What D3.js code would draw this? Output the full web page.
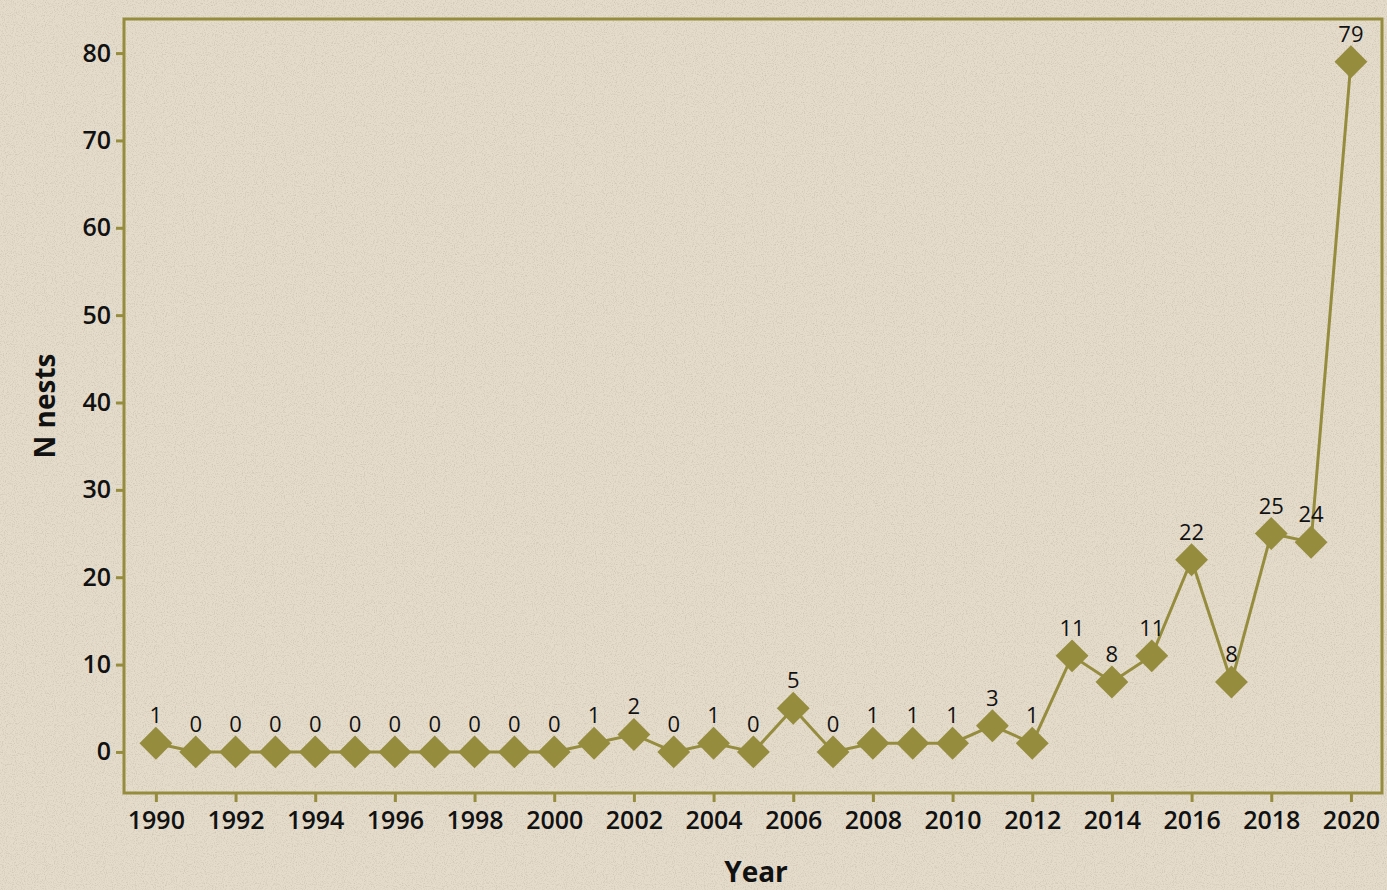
<!DOCTYPE html>
<html>
<head>
<meta charset="utf-8">
<script src="https://cdn.jsdelivr.net/npm/d3@7"></script>
<style>
  body { margin: 0; background: #e4dbcb; }
  svg { display: block; }
  .tick text { font-family: "Open Sans", sans-serif; font-weight: 600; fill: #111; }
  .valText { font-family: "Open Sans", sans-serif; font-size: 22px; fill: #111; }
  .axisText { font-family: "Open Sans", sans-serif; font-weight: 700; font-size: 28px; fill: #111; }
</style>
</head>
<body>
<div id="chart"></div>
<script>
// data
var years = [1990, 1991, 1992, 1993, 1994, 1995, 1996, 1997, 1998, 1999, 2000,
  2001, 2002, 2003, 2004, 2005, 2006, 2007, 2008, 2009, 2010,
  2011, 2012, 2013, 2014, 2015, 2016, 2017, 2018, 2019, 2020];
var nests = [1, 0, 0, 0, 0, 0, 0, 0, 0, 0, 0,
  1, 2, 0, 1, 0, 5, 0, 1, 1, 1,
  3, 1, 11, 8, 11, 22, 8, 25, 24, 79];
var xTicks = [1990, 1992, 1994, 1996, 1998, 2000, 2002, 2004, 2006, 2008, 2010, 2012, 2014, 2016, 2018, 2020];
var yTicks = [0, 10, 20, 30, 40, 50, 60, 70, 80];

var svgWidth = 1387;
var svgHeight = 890;
var olive = "#958c3e";

var frame = { left: 124, top: 19, right: 1382, bottom: 793 };

var svg = d3.select("#chart")
  .append("svg")
  .attr("width", svgWidth)
  .attr("height", svgHeight);

// paper-like speckle texture
var defs = svg.append("defs");
var f = defs.append("filter").attr("id", "grain").attr("x", 0).attr("y", 0).attr("width", "100%").attr("height", "100%");
f.append("feTurbulence").attr("type", "fractalNoise").attr("baseFrequency", 0.9).attr("numOctaves", 2).attr("seed", 4);
f.append("feColorMatrix").attr("values", "0 0 0 0 0.45  0 0 0 0 0.40  0 0 0 0 0.32  0 0 0 -2.4 1.3");

svg.append("rect").attr("width", svgWidth).attr("height", svgHeight).attr("fill", "#e5dccc");
svg.append("rect").attr("width", svgWidth).attr("height", svgHeight)
  .attr("filter", "url(#grain)").attr("opacity", 0.45);

var x = d3.scaleLinear()
  .domain([1989.2, 2020.78])
  .range([frame.left, frame.right]);

var y = d3.scaleLinear()
  .domain([-4.7, 83.9])
  .range([frame.bottom, frame.top]);

var data = years.map(function(yr, i) { return { year: yr, n: nests[i] }; });

// frame
svg.append("rect")
  .attr("x", frame.left)
  .attr("y", frame.top)
  .attr("width", frame.right - frame.left)
  .attr("height", frame.bottom - frame.top)
  .attr("fill", "none")
  .attr("stroke", olive)
  .attr("stroke-width", 3);

var xAxis = d3.axisBottom(x).tickValues(xTicks).tickFormat(d3.format("d")).tickSize(9).tickPadding(9);
var yAxis = d3.axisLeft(y).tickValues(yTicks).tickSize(8).tickPadding(5);

var gx = svg.append("g")
  .attr("transform", `translate(0, ${frame.bottom})`)
  .call(xAxis);
gx.select(".domain").remove();
gx.selectAll(".tick line").attr("stroke", olive).attr("stroke-width", 3);
gx.selectAll(".tick text").style("font-size", "25px");

var gy = svg.append("g")
  .attr("transform", `translate(${frame.left}, 0)`)
  .call(yAxis);
gy.select(".domain").remove();
gy.selectAll(".tick line").attr("stroke", olive).attr("stroke-width", 3);
gy.selectAll(".tick text").style("font-size", "25px");

// line
var line = d3.line().x(d => x(d.year)).y(d => y(d.n));
svg.append("path")
  .datum(data)
  .attr("d", line)
  .attr("fill", "none")
  .attr("stroke", olive)
  .attr("stroke-width", 3);

// diamonds
var diamond = d3.symbol().type(d3.symbolSquare).size(540);
svg.selectAll(".pt")
  .data(data)
  .enter()
  .append("path")
  .attr("class", "pt")
  .attr("d", diamond)
  .attr("transform", d => `translate(${x(d.year)}, ${y(d.n)}) rotate(45)`)
  .attr("fill", olive);

// value labels
svg.selectAll(".valText")
  .data(data)
  .enter()
  .append("text")
  .attr("class", "valText")
  .attr("text-anchor", "middle")
  .attr("x", d => x(d.year))
  .attr("y", d => y(d.n) - 20)
  .text(d => d.n);

// axis titles
svg.append("text")
  .attr("class", "axisText")
  .attr("text-anchor", "middle")
  .attr("x", 756)
  .attr("y", 882)
  .text("Year");

svg.append("text")
  .attr("class", "axisText")
  .attr("text-anchor", "middle")
  .attr("transform", "translate(55, 406) rotate(-90)")
  .text("N nests");
</script>
</body>
</html>
